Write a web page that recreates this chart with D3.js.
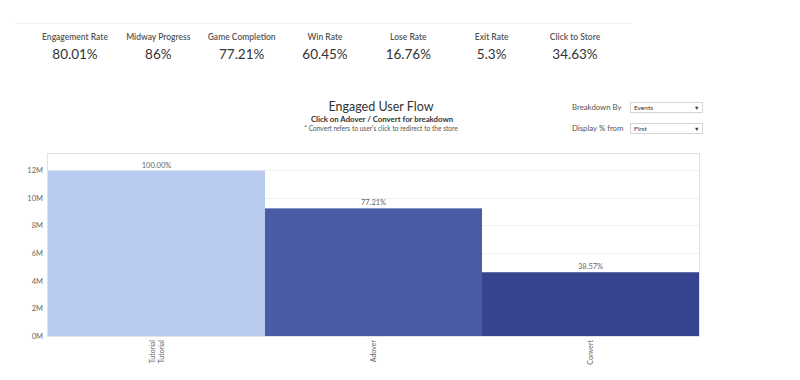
<!DOCTYPE html>
<html>
<head>
<meta charset="utf-8">
<script src="https://cdn.jsdelivr.net/npm/d3@7"></script>
<style>
  html, body { margin: 0; padding: 0; background: #fff; }
  svg { display: block; font-family: "Lato", "Noto Sans", sans-serif; }
</style>
</head>
<body>
<svg id="chart" width="800" height="380"></svg>
<script>
// ---- data ----
const kpiLabels = ["Engagement Rate", "Midway Progress", "Game Completion", "Win Rate", "Lose Rate", "Exit Rate", "Click to Store"];
const kpiValues = ["80.01%", "86%", "77.21%", "60.45%", "16.76%", "5.3%", "34.63%"];
const categories = ["Tutorial\nTutorial", "Adover", "Convert"];
const users = [11950000, 9227000, 4609000];
const pctLabels = ["100.00%", "77.21%", "38.57%"];
const barColors = ["#b9ccf0", "#4a5ca8", "#364490"];
const yTicks = [0, 2000000, 4000000, 6000000, 8000000, 10000000, 12000000];

(function () {
const svg = d3.select("#chart");

// ---- KPI strip ----
svg.append("line").attr("x1", 15).attr("x2", 632).attr("y1", 23.5).attr("y2", 23.5)
  .attr("stroke", "#f0f0f0").attr("stroke-width", 1);
const kx = d3.scalePoint().domain(kpiLabels).range([75, 575]);
const kg = svg.append("g");
kg.selectAll("text.kl").data(kpiLabels).join("text")
  .attr("class", "kl")
  .attr("x", d => kx(d)).attr("y", 40)
  .attr("text-anchor", "middle").attr("font-size", 8.5).attr("font-weight", 600)
  .attr("fill", "#555").text(d => d);
kg.selectAll("text.kv").data(kpiValues).join("text")
  .attr("class", "kv")
  .attr("x", (d, i) => kx(kpiLabels[i])).attr("y", 59)
  .attr("text-anchor", "middle").attr("font-size", 13.5)
  .attr("fill", "#333").text(d => d);

// ---- Titles ----
svg.append("text").attr("x", 381).attr("y", 111).attr("text-anchor", "middle")
  .attr("font-size", 12.5).attr("fill", "#333").text("Engaged User Flow");
svg.append("text").attr("x", 382).attr("y", 122).attr("text-anchor", "middle")
  .attr("font-size", 7.8).attr("font-weight", 700).attr("fill", "#333")
  .text("Click on Adover / Convert for breakdown");
svg.append("text").attr("x", 381).attr("y", 131).attr("text-anchor", "middle")
  .attr("font-size", 6.6).attr("fill", "#555")
  .text("* Convert refers to user's click to redirect to the store");

// ---- Controls ----
const controls = [["Breakdown By", "Events", 102], ["Display % from", "First", 123]];
controls.forEach(([lab, val, yy]) => {
  svg.append("text").attr("x", 572).attr("y", yy + 7.5).attr("font-size", 7.8)
    .attr("fill", "#555").text(lab);
  svg.append("rect").attr("x", 630.5).attr("y", yy + 0.5).attr("width", 72).attr("height", 10)
    .attr("fill", "#fff").attr("stroke", "#d4d4d4");
  svg.append("text").attr("x", 634).attr("y", yy + 7.5).attr("font-size", 6.5)
    .attr("fill", "#333").text(val);
  svg.append("text").attr("x", 694).attr("y", yy + 7.5).attr("font-size", 5.5)
    .attr("fill", "#333").text("▼");
});

// ---- Chart ----
const pLeft = 48, pRight = 699, pTop = 154, pBottom = 336;
const x = d3.scaleBand().domain(categories).range([pLeft, pRight]).padding(0);
const y = d3.scaleLinear().domain([0, 12000000]).range([pBottom, 170]);

// frame
svg.append("rect").attr("x", pLeft - 0.5).attr("y", pTop - 0.5)
  .attr("width", pRight - pLeft + 1).attr("height", pBottom - pTop + 1)
  .attr("fill", "none").attr("stroke", "#e2e2e2");

// gridlines
svg.append("g").selectAll("line").data(yTicks.filter(d => d > 0)).join("line")
  .attr("x1", pLeft).attr("x2", pRight)
  .attr("y1", d => Math.round(y(d)) + 0.5).attr("y2", d => Math.round(y(d)) + 0.5)
  .attr("stroke", "#f0f0f0");

// bars
svg.append("g").selectAll("rect").data(categories).join("rect")
  .attr("x", d => x(d)).attr("width", x.bandwidth())
  .attr("y", (d, i) => y(users[i])).attr("height", (d, i) => y(0) - y(users[i]))
  .attr("fill", (d, i) => barColors[i]);

// bar labels
svg.append("g").selectAll("text").data(categories).join("text")
  .attr("x", d => x(d) + x.bandwidth() / 2)
  .attr("y", (d, i) => y(users[i]) - 3)
  .attr("text-anchor", "middle").attr("font-size", 7.5).attr("fill", "#666")
  .text((d, i) => pctLabels[i]);

// y axis
const yAxis = d3.axisLeft(y).tickValues(yTicks).tickSize(0).tickPadding(5)
  .tickFormat(d => (d / 1000000) + "M");
const yg = svg.append("g").attr("transform", `translate(${pLeft},0)`).call(yAxis);
yg.select(".domain").remove();
yg.selectAll("text").attr("font-size", 7.5).attr("fill", "#666")
  .attr("font-family", "Lato, 'Noto Sans', sans-serif");

// x axis labels (rotated)
const xAxis = d3.axisBottom(x).tickSize(0).tickFormat("");
const xg = svg.append("g").attr("transform", `translate(0,${pBottom})`).call(xAxis);
xg.select(".domain").remove();
xg.selectAll(".tick").each(function (d) {
  const lines = d.split("\n");
  const t = d3.select(this).append("text")
    .attr("transform", "rotate(-90)")
    .attr("text-anchor", "end").attr("font-size", 7).attr("fill", "#666")
    .attr("font-family", "Lato, 'Noto Sans', sans-serif");
  lines.forEach((ln, i) => {
    t.append("tspan").attr("x", -4)
      .attr("y", (i - (lines.length - 1) / 2) * 9 + 2.5)
      .text(ln);
  });
});
})();
</script>
</body>
</html>
